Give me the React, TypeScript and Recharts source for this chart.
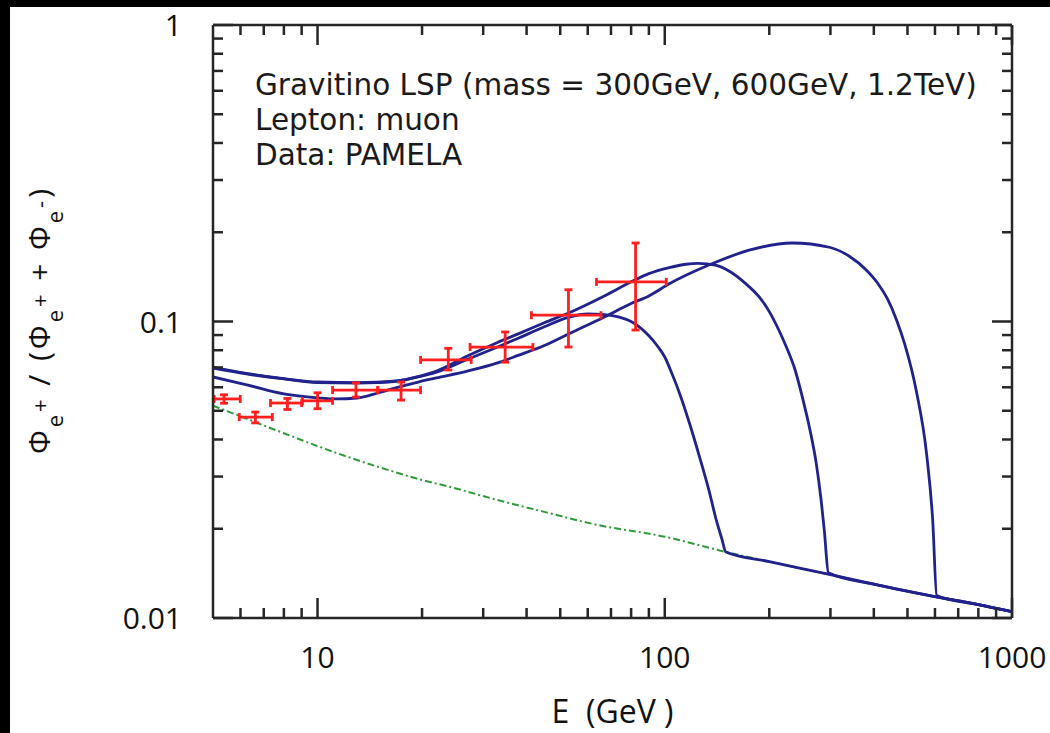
import React from 'react';
import { ComposedChart, Line, Scatter, ErrorBar, XAxis, YAxis } from 'recharts';

// axis ticks (log scales)
const X_TICKS = [6, 7, 8, 9, 10, 20, 30, 40, 50, 60, 70, 80, 90, 100, 200, 300, 400, 500, 600, 700, 800, 900, 1000];
const X_MAJOR = [10, 100, 1000];
const Y_TICKS = [0.01, 0.02, 0.03, 0.04, 0.05, 0.06, 0.07, 0.08, 0.09, 0.1, 0.2, 0.3, 0.4, 0.5, 0.6, 0.7, 0.8, 0.9, 1];
const Y_MAJOR = [0.01, 0.1, 1];

// astrophysical background (dash-dot green)
const bgE = [5, 6, 7, 8, 10, 12, 15, 20, 24, 33, 45, 64, 100, 150, 200, 300, 400, 600, 800, 1000];
const bgRatio = [0.052, 0.0479, 0.0446, 0.042, 0.038, 0.0352, 0.0323, 0.0292, 0.0277, 0.025, 0.0228, 0.0206, 0.0188, 0.0167, 0.0155, 0.014, 0.013, 0.0118, 0.0111, 0.0105];

// gravitino 300 GeV
const m300E = [5, 6.3, 8, 10, 13, 15, 17, 19.5, 22, 27, 33, 38, 45, 53, 60, 67, 74, 80, 90, 95, 100, 105, 111, 118, 125, 134, 141, 146, 150, 200, 300, 400, 600, 800, 1000];
const m300Ratio = [0.0697, 0.0665, 0.064, 0.0622, 0.062, 0.0622, 0.063, 0.065, 0.0675, 0.0745, 0.082, 0.088, 0.096, 0.1035, 0.106, 0.1055, 0.1035, 0.1, 0.0895, 0.083, 0.0759, 0.0665, 0.0561, 0.0451, 0.036, 0.027, 0.0212, 0.0185, 0.0167, 0.0155, 0.014, 0.013, 0.0118, 0.0111, 0.0105];

// gravitino 600 GeV
const m600E = [5, 6.3, 8, 10, 13, 17, 19.5, 22, 27, 33, 38, 45, 53, 67, 82, 90, 103, 115, 125, 140, 156, 170, 187, 200, 213, 224, 237, 249, 262, 273, 282, 288, 296, 400, 600, 800, 1000];
const m600Ratio = [0.07, 0.0667, 0.0642, 0.0625, 0.0622, 0.063, 0.0652, 0.068, 0.0765, 0.085, 0.091, 0.099, 0.107, 0.122, 0.138, 0.145, 0.152, 0.156, 0.157, 0.155, 0.146, 0.135, 0.121, 0.108, 0.0936, 0.082, 0.069, 0.0556, 0.043, 0.0333, 0.025, 0.0198, 0.0142, 0.013, 0.0118, 0.0111, 0.0105];

// gravitino 1.2 TeV
const m1200E = [5, 6.3, 8, 10, 11.3, 13, 15, 17, 19.5, 22, 27, 33, 38, 45, 53, 67, 80, 90, 103, 134, 175, 233, 298, 340, 381, 410, 438, 465, 491, 531, 568, 591, 607, 800, 1000];
const m1200Ratio = [0.065, 0.061, 0.057, 0.0553, 0.0548, 0.0552, 0.0575, 0.06, 0.0625, 0.0645, 0.068, 0.0725, 0.077, 0.083, 0.091, 0.1036, 0.115, 0.122, 0.134, 0.155, 0.174, 0.184, 0.178, 0.166, 0.149, 0.1349, 0.1191, 0.1012, 0.0839, 0.0578, 0.0355, 0.0214, 0.0119, 0.0111, 0.0105];

// PAMELA positron fraction
const pamE = [5.38, 6.62, 8.19, 10.0, 12.9, 17.4, 23.8, 34.7, 52.8, 82.4];
const pamElo = [5.04, 5.95, 7.32, 9.05, 11.05, 14.9, 19.8, 27.5, 41.3, 63.6];
const pamEhi = [5.99, 7.41, 9.0, 11.05, 14.93, 19.8, 27.7, 41.7, 65.5, 101];
const pamRatio = [0.0548, 0.0476, 0.0531, 0.054, 0.0587, 0.0587, 0.0742, 0.082, 0.105, 0.136];
const pamRlo = [0.053, 0.0455, 0.0505, 0.0508, 0.0556, 0.0543, 0.0686, 0.0729, 0.082, 0.0936];
const pamRhi = [0.0566, 0.0495, 0.055, 0.0575, 0.0621, 0.0625, 0.0812, 0.0922, 0.128, 0.184];

const toSeries = (xs: number[], ys: number[]) => xs.map((x, i) => ({ x, y: ys[i] }));

const bgData = toSeries(bgE, bgRatio);
const m300Data = toSeries(m300E, m300Ratio);
const m600Data = toSeries(m600E, m600Ratio);
const m1200Data = toSeries(m1200E, m1200Ratio);
const pamData = pamE.map((x, i) => ({
  x,
  y: pamRatio[i],
  ex: [x - pamElo[i], pamEhi[i] - x],
  ey: [pamRatio[i] - pamRlo[i], pamRhi[i] - pamRatio[i]],
}));

const AXIS_COLOR = '#262626';
const BLUE = '#22228c';
const RED = '#ff1f1f';
const GREEN = '#2f9a3a';
const FONT = '"Open Sans", "DejaVu Sans", sans-serif';

const isMajor = (v: number, majors: number[]) => majors.some(m => Math.abs(v - m) / m < 1e-6);

const BottomTick = ({ x, y, payload }: any) => {
  const major = isMajor(payload.value, X_MAJOR);
  return (
    <g>
      <line x1={x} y1={y} x2={x} y2={y - (major ? 20 : 10)} stroke={AXIS_COLOR} strokeWidth={2.5} />
      {major && (
        <text x={x} y={y + 50} textAnchor="middle" fontSize={30} fontFamily={FONT} fill="#111">
          {payload.value}
        </text>
      )}
    </g>
  );
};

const TopTick = ({ x, y, payload }: any) => {
  const major = isMajor(payload.value, X_MAJOR);
  return <line x1={x} y1={y} x2={x} y2={y + (major ? 20 : 10)} stroke={AXIS_COLOR} strokeWidth={2.5} />;
};

const LeftTick = ({ x, y, payload }: any) => {
  const major = isMajor(payload.value, Y_MAJOR);
  return (
    <g>
      <line x1={x} y1={y} x2={x + (major ? 20 : 10)} y2={y} stroke={AXIS_COLOR} strokeWidth={2.5} />
      {major && (
        <text x={x - 31} y={y + 11} textAnchor="end" fontSize={30} fontFamily={FONT} fill="#111">
          {String(payload.value)}
        </text>
      )}
    </g>
  );
};

const RightTick = ({ x, y, payload }: any) => {
  const major = isMajor(payload.value, Y_MAJOR);
  return <line x1={x} y1={y} x2={x - (major ? 20 : 10)} y2={y} stroke={AXIS_COLOR} strokeWidth={2.5} />;
};

const XTitle = ({ viewBox }: any) => (
  <text
    x={viewBox.x + viewBox.width / 2}
    y={viewBox.y + 105}
    textAnchor="middle"
    fontSize={32}
    fontFamily={FONT}
    fill="#111"
    style={{ whiteSpace: 'pre' }}
  >
    {'E  (GeV )'}
  </text>
);

const YTitle = ({ viewBox }: any) => {
  const cx = viewBox.x + 40;
  const cy = viewBox.y + viewBox.height / 2;
  const small = 22;
  return (
    <text
      x={cx}
      y={cy}
      transform={`rotate(-90, ${cx}, ${cy})`}
      textAnchor="middle"
      fontSize={30}
      fontFamily={FONT}
      fill="#111"
      textLength={265}
      lengthAdjust="spacing"
      style={{ whiteSpace: 'pre' }}
    >
      <tspan>Φ</tspan>
      <tspan fontSize={small} dy={13}>e</tspan>
      <tspan fontSize={small} dy={-15}>+</tspan>
      <tspan dy={2}>{' / (Φ'}</tspan>
      <tspan fontSize={small} dy={13}>e</tspan>
      <tspan fontSize={small} dy={-15}>+</tspan>
      <tspan dy={2}>{' + Φ'}</tspan>
      <tspan fontSize={small} dy={13}>e</tspan>
      <tspan fontSize={small} dy={-15}>-</tspan>
      <tspan dy={2}>)</tspan>
    </text>
  );
};

const Notes = ({ viewBox }: any) => {
  const x = viewBox.x + 42;
  const y = viewBox.y + viewBox.height + 70;
  const common = { fontSize: 29.5, fontFamily: '"DejaVu Sans", sans-serif', fill: '#1a1a1a' };
  return (
    <g>
      <text x={x} y={y} {...common}>Gravitino LSP (mass = 300GeV, 600GeV, 1.2TeV)</text>
      <text x={x} y={y + 35} {...common}>Lepton: muon</text>
      <text x={x} y={y + 70} {...common}>Data: PAMELA</text>
    </g>
  );
};

const noShape = () => <g />;

export default function App() {
  return (
    <div style={{ position: 'relative', width: 1050, height: 733, background: '#000' }}>
      <style>{'body{margin:0}'}</style>
      <div style={{ position: 'absolute', left: 10, top: 7, width: 1040, height: 726, background: '#fff' }} />
      <div style={{ position: 'absolute', left: 10, top: 0 }}>
        <ComposedChart width={1040} height={733} margin={{ top: 24, right: 37, bottom: 0, left: 0 }}>
          <XAxis
            dataKey="x"
            type="number"
            scale="log"
            domain={[5, 1000]}
            allowDataOverflow
            ticks={X_TICKS}
            interval={0}
            height={115}
            tickSize={0}
            tickMargin={0}
            tickLine={false}
            axisLine={{ stroke: AXIS_COLOR, strokeWidth: 2.5 }}
            tick={(p: any) => <BottomTick {...p} />}
            label={<XTitle />}
          />
          <XAxis
            xAxisId="top"
            orientation="top"
            dataKey="x"
            type="number"
            scale="log"
            domain={[5, 1000]}
            allowDataOverflow
            ticks={X_TICKS}
            interval={0}
            height={1}
            tickSize={0}
            tickMargin={0}
            tickLine={false}
            axisLine={{ stroke: AXIS_COLOR, strokeWidth: 2.5 }}
            tick={(p: any) => <TopTick {...p} />}
            label={<Notes />}
          />
          <YAxis
            type="number"
            scale="log"
            domain={[0.01, 1]}
            allowDataOverflow
            ticks={Y_TICKS}
            interval={0}
            width={203}
            tickSize={0}
            tickMargin={0}
            tickLine={false}
            axisLine={{ stroke: AXIS_COLOR, strokeWidth: 2.5 }}
            tick={(p: any) => <LeftTick {...p} />}
            label={<YTitle />}
          />
          <YAxis
            yAxisId="right"
            orientation="right"
            type="number"
            scale="log"
            domain={[0.01, 1]}
            allowDataOverflow
            ticks={Y_TICKS}
            interval={0}
            width={1}
            tickSize={0}
            tickMargin={0}
            tickLine={false}
            axisLine={{ stroke: AXIS_COLOR, strokeWidth: 2.5 }}
            tick={(p: any) => <RightTick {...p} />}
          />
          {/* invisible series bound to the mirrored frame axes */}
          <Line
            data={bgData}
            xAxisId="top"
            yAxisId="right"
            dataKey="y"
            stroke="none"
            dot={false}
            activeDot={false}
            legendType="none"
            isAnimationActive={false}
          />
          <Line
            data={bgData}
            dataKey="y"
            type="monotone"
            stroke={GREEN}
            strokeWidth={2}
            strokeDasharray="7 3 2 3"
            dot={false}
            isAnimationActive={false}
          />
          <Line data={m300Data} dataKey="y" type="monotone" stroke={BLUE} strokeWidth={2.8} dot={false} isAnimationActive={false} />
          <Line data={m600Data} dataKey="y" type="monotone" stroke={BLUE} strokeWidth={2.8} dot={false} isAnimationActive={false} />
          <Line data={m1200Data} dataKey="y" type="monotone" stroke={BLUE} strokeWidth={2.8} dot={false} isAnimationActive={false} />
          <Scatter data={pamData} dataKey="y" shape={noShape} isAnimationActive={false}>
            <ErrorBar dataKey="ex" direction="x" width={4} stroke={RED} strokeWidth={2.8} />
            <ErrorBar dataKey="ey" direction="y" width={4} stroke={RED} strokeWidth={2.8} />
          </Scatter>
        </ComposedChart>
      </div>
    </div>
  );
}
